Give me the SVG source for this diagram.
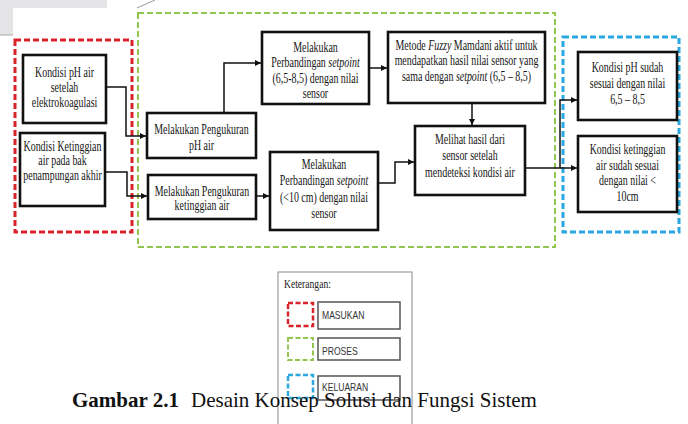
<svg xmlns="http://www.w3.org/2000/svg" width="688" height="424" viewBox="0 0 688 424">
<style>
.box{fill:#fff;stroke:#111;stroke-width:2.6}
.t{font-family:"Liberation Serif","Times New Roman",serif;font-size:13.6px;fill:#151515;text-anchor:middle}
.i{font-style:italic}
.c{fill:none;stroke:#111;stroke-width:1.5}
.grp{fill:none;stroke-dasharray:6 3}
.lg{fill:#fff;stroke:#555;stroke-width:1.5}
.lt{font-family:"Liberation Sans",Arial,sans-serif;font-size:11px;fill:#333}
</style>
<defs>
<marker id="ah" viewBox="0 0 8 8" refX="8" refY="4" markerWidth="6" markerHeight="6" markerUnits="userSpaceOnUse" orient="auto">
<path d="M0,0 L8,4 L0,8 Z" fill="#111"/>
</marker>
</defs>
<rect width="688" height="424" fill="#fff"/>
<path d="M0,0 H107 V8 H13 V35 H0 Z" fill="#e4e4e6"/>
<line x1="0" y1="35" x2="13" y2="35" stroke="#aaa" stroke-width="1"/>
<line x1="137" y1="8" x2="155" y2="0" stroke="#999" stroke-width="1"/>

<g id="groups">
<rect id="masukan" class="grp" x="15" y="40" width="117" height="192" stroke="#d9232b" stroke-width="3"/>
<rect id="proses" class="grp" x="138" y="13" width="417" height="234" stroke="#92c54f" stroke-width="2"/>
<rect id="keluaran" class="grp" x="563" y="37" width="116" height="195" stroke="#2aa8df" stroke-width="3"/>
</g>

<g id="connectors">
<path class="c" d="M106,87 H126 V136 H146" marker-end="url(#ah)"/>
<path class="c" d="M105,172 H127 V196 H147" marker-end="url(#ah)"/>
<path class="c" d="M224,113 V63 H261" marker-end="url(#ah)"/>
<path class="c" d="M369,68 H387" marker-end="url(#ah)"/>
<path class="c" d="M472,103 V125" marker-end="url(#ah)"/>
<path class="c" d="M256,196 H269" marker-end="url(#ah)"/>
<path class="c" d="M378,183 H395 V162 H414" marker-end="url(#ah)"/>
<path class="c" d="M525,168 H577" marker-end="url(#ah)"/>
<path class="c" d="M560,168 V100 H577" marker-end="url(#ah)"/>
</g>

<g id="n1">
<rect class="box" x="23" y="55" width="83" height="68"/>
<text class="t" transform="translate(64.5,77) scale(.73,1)"><tspan x="0">Kondisi pH air</tspan><tspan x="0" dy="15">setelah</tspan><tspan x="0" dy="15">elektrokoagulasi</tspan></text>
</g>
<g id="n2">
<rect class="box" x="20" y="133" width="85" height="73"/>
<text class="t" transform="translate(62.5,151) scale(.73,1)"><tspan x="0">Kondisi Ketinggian</tspan><tspan x="0" dy="14.5">air pada bak</tspan><tspan x="0" dy="14.5">penampungan akhir</tspan></text>
</g>
<g id="n3">
<rect class="box" x="147" y="113" width="109" height="45"/>
<text class="t" transform="translate(201.5,134) scale(.73,1)"><tspan x="0">Melakukan Pengukuran</tspan><tspan x="0" dy="16">pH air</tspan></text>
</g>
<g id="n4">
<rect class="box" x="148" y="175" width="108" height="44"/>
<text class="t" transform="translate(202,196) scale(.73,1)"><tspan x="0">Melakukan Pengukuran</tspan><tspan x="0" dy="14.5">ketinggian air</tspan></text>
</g>
<g id="n5">
<rect class="box" x="262" y="32" width="107" height="72"/>
<text class="t" transform="translate(315.5,52) scale(.73,1)"><tspan x="0">Melakukan</tspan><tspan x="0" dy="15.5">Perbandingan </tspan><tspan class="i">setpoint</tspan><tspan x="0" dy="15.5">(6,5-8,5) dengan nilai</tspan><tspan x="0" dy="15.5">sensor</tspan></text>
</g>
<g id="n6">
<rect class="box" x="388" y="32" width="157" height="71"/>
<text class="t" transform="translate(466.5,50) scale(.73,1)"><tspan x="0">Metode </tspan><tspan class="i">Fuzzy</tspan><tspan> Mamdani aktif untuk</tspan><tspan x="0" dy="15.5">mendapatkan hasil nilai sensor yang</tspan><tspan x="0" dy="15.5">sama dengan </tspan><tspan class="i">setpoint</tspan><tspan> (6,5 – 8,5)</tspan></text>
</g>
<g id="n7">
<rect class="box" x="415" y="126" width="110" height="69"/>
<text class="t" transform="translate(470,144) scale(.73,1)"><tspan x="0">Melihat hasil dari</tspan><tspan x="0" dy="16.5">sensor setelah</tspan><tspan x="0" dy="16.5">mendeteksi kondisi air</tspan></text>
</g>
<g id="n8">
<rect class="box" x="270" y="152" width="108" height="78"/>
<text class="t" transform="translate(324,169) scale(.73,1)"><tspan x="0">Melakukan</tspan><tspan x="0" dy="16.5">Perbandingan </tspan><tspan class="i">setpoint</tspan><tspan x="0" dy="16.5">(&lt;10 cm) dengan nilai</tspan><tspan x="0" dy="16.5">sensor</tspan></text>
</g>
<g id="n9">
<rect class="box" x="578" y="52" width="99" height="68"/>
<text class="t" transform="translate(627.5,72) scale(.73,1)"><tspan x="0">Kondisi pH sudah</tspan><tspan x="0" dy="16">sesuai dengan nilai</tspan><tspan x="0" dy="16">6,5 – 8,5</tspan></text>
</g>
<g id="n10">
<rect class="box" x="578" y="136" width="99" height="76"/>
<text class="t" transform="translate(627.5,154) scale(.73,1)"><tspan x="0">Kondisi ketinggian</tspan><tspan x="0" dy="15.7">air sudah sesuai</tspan><tspan x="0" dy="15.7">dengan nilai &lt;</tspan><tspan x="0" dy="15.7">10cm</tspan></text>
</g>

<g id="legend">
<rect x="278" y="272" width="134" height="160" fill="#fff" stroke="#888" stroke-width="1"/>
<text transform="translate(284,288) scale(.8,1)" style="font-family:'Liberation Serif','Times New Roman',serif;font-size:12px;fill:#222">Keterangan:</text>
<rect x="288" y="303" width="25" height="23" fill="none" stroke="#d9232b" stroke-width="2.5" stroke-dasharray="5 2.5"/>
<rect class="lg" x="318" y="302" width="82" height="27"/>
<text class="lt" transform="translate(322,319) scale(.78,1)">MASUKAN</text>
<rect x="288" y="338" width="25" height="22" fill="none" stroke="#92c54f" stroke-width="2" stroke-dasharray="5 2.5"/>
<rect class="lg" x="318" y="338" width="82" height="22"/>
<text class="lt" transform="translate(322,355) scale(.78,1)">PROSES</text>
<rect x="288" y="375" width="25" height="23" fill="none" stroke="#2aa8df" stroke-width="2.5" stroke-dasharray="5 2.5"/>
<rect class="lg" x="318" y="376" width="82" height="24"/>
<text class="lt" transform="translate(322,391) scale(.78,1)">KELUARAN</text>
</g>

<text x="72" y="407" style="font-family:'Liberation Serif','Times New Roman',serif;font-size:21px;fill:#111"><tspan font-weight="bold">Gambar 2.1</tspan><tspan x="191">Desain Konsep Solusi dan Fungsi Sistem</tspan></text>
</svg>
